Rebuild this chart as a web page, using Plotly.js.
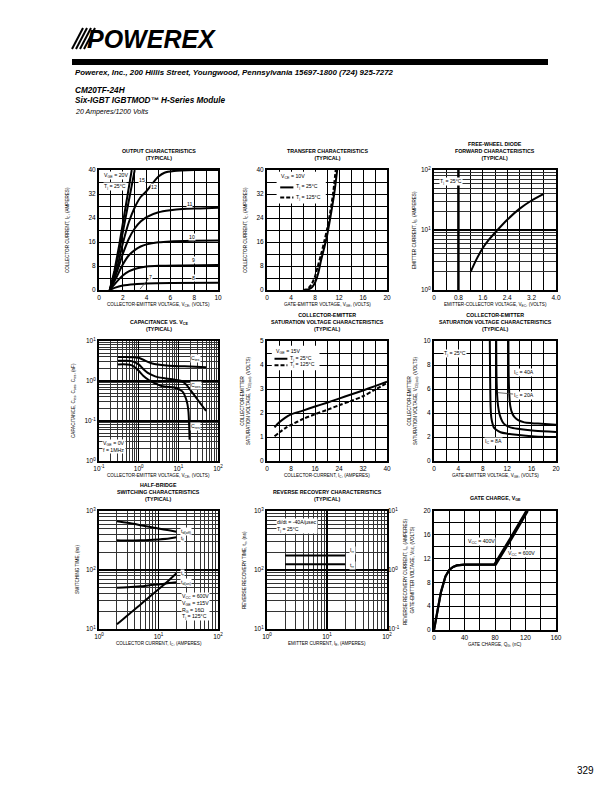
<!DOCTYPE html>
<html><head><meta charset="utf-8">
<script src="https://cdn.plot.ly/plotly-3.0.1.min.js"></script>
<style>html,body{margin:0;padding:0;background:#fff}</style>
</head><body><div id="chart" style="width:612px;height:792px"></div>
<script>
// ---------- DATA ----------
// Output characteristics (VCE volts -> IC amperes), per VGE
const out_vce_20 = [0.9,1.3,1.7,2.1,2.5,2.75];
const out_ic_20  = [0,6.5,15,24,33,40];
const out_vce_15 = [0.9,1.3,1.7,2.1,2.5,3.0];
const out_ic_15  = [0,5.5,13,21,29,40];
const out_vce_12 = [0.9,1.5,2,2.5,3,3.5,4,4.5,5,5.5,6.3,8,10];
const out_ic_12  = [0,7,15.5,22.5,27.5,31,33,35.5,37.8,39.1,39.7,40,40];
const out_vce_11 = [0.9,1.5,2,2.5,3,3.5,4,5,6,7,8.5,10];
const out_ic_11  = [0,6,12,17,20.5,22.8,24.3,25.9,26.6,27,27.2,27.4];
const out_vce_10 = [0.9,1.5,2,2.5,3,3.5,4,5,6,8,10];
const out_ic_10  = [0,4.5,8.5,11.5,13.3,14.5,15.2,15.9,16.2,16.4,16.5];
const out_vce_9  = [0.9,1.5,2,2.5,3,3.5,4,5,7,10];
const out_ic_9   = [0,2.8,4.8,6.2,7.0,7.5,7.8,8.05,8.2,8.3];
const out_vce_8  = [0.9,1.3,2,3,4,6,10];
const out_ic_8   = [0,0.7,1.5,1.95,2.15,2.3,2.4];
const out_labels = ['15','12','11','10','9','8','7'];

// Transfer characteristics (VGE -> IC)
const tr_vge_25  = [6.5,7,7.5,8,8.5,9,9.5,10,10.5,11,11.3,11.7];
const tr_ic_25   = [0,0.3,0.9,2.4,5.3,9.8,13.8,18,23.5,29.5,33.5,40];
const tr_vge_125 = [6,6.5,7,7.5,8,8.5,9,9.5,10,10.5,11,11.45];
const tr_ic_125  = [0,0.2,0.8,2.2,4.5,8.2,11.8,15.8,20.2,25.5,32,40];

// Free-wheel diode forward (VEC -> IE)
const fwd_vec = [1.2,1.4,1.6,1.8,2.0,2.4,2.8,3.2,3.6];
const fwd_ie  = [2,3.3,5,6.9,9,14.8,22.5,31,40];

// Capacitance vs VCE (nF)
const cap_vce_ies = [0.3,0.5,0.8,1,1.3,1.7,2.2,3,5,10,20,50];
const cap_ies     = [4.0,4.0,3.9,3.8,3.4,3.0,2.75,2.6,2.45,2.35,2.3,2.2];
const cap_vce_oes = [0.3,0.5,0.7,1,1.3,1.7,2.2,3,5,8,12,16,20,30,50];
const cap_oes     = [3.2,3.2,3.1,2.6,2.0,1.6,1.4,1.25,1.15,1.08,1.0,0.8,0.6,0.35,0.18];
const cap_vce_res = [0.3,0.5,0.65,0.8,1,1.3,1.8,2.5,3.6,5,8,12.6,15.5,17,18,18.7,19.2];
const cap_res     = [2.6,2.6,2.5,2.2,1.8,1.35,1.06,0.88,0.76,0.72,0.69,0.55,0.37,0.26,0.17,0.08,0.034];

// VCE(sat) vs IC
const sat_ic   = [2.5,4,6,8,12,16,20,24,28,32,36,40];
const sat_v25  = [1.4,1.6,1.8,1.94,2.1,2.27,2.43,2.6,2.77,2.94,3.12,3.3];
const sat_v125 = [1.03,1.18,1.36,1.5,1.75,1.95,2.13,2.32,2.5,2.7,2.97,3.25];

// VCE(sat) vs VGE
const sv_vge_8  = [9.15,9.2,9.28,9.4,9.6,9.8,10.2,10.9,12,13.5,16.5,20];
const sv_v_8    = [10,7,4.5,3.6,3.1,2.8,2.6,2.4,2.28,2.18,2.05,2.0];
const sv_vge_20 = [10.2,10.25,10.35,10.5,10.8,11.2,11.7,12.5,13.7,16.5,20];
const sv_v_20   = [10,7,5.5,4.6,3.8,3.3,3.0,2.8,2.68,2.52,2.42];
const sv_vge_40 = [12.2,12.25,12.35,12.5,12.8,13.2,13.8,14.8,16,17.6,20];
const sv_v_40   = [10,7,5.5,4.6,4.0,3.65,3.4,3.22,3.15,3.1,3.02];

// Half-bridge switching (IC -> ns)
const sw_ic    = [2,3,5,7,10,15,20];
const sw_tdoff = [670,630,575,540,505,470,445];
const sw_tf    = [320,316,318,322,330,342,358];
const sw_tdon  = [50,51,53,55,57,60,62];
const sw_tr    = [12,17,26,35,47,67,88];

// Reverse recovery (IE -> trr ns, Irr A)
const rr_ie  = [2,20];
const rr_trr = [125,125];
const rr_irr = [1.76,1.76];

// Gate charge (QG nC -> VGE)
const gc_q_400 = [0,4,9,15,20,25,30,40,60,79,100,121];
const gc_v_400 = [0,2.8,6.3,9,10.1,10.6,10.85,11,11,11,15.4,20];
const gc_q_600 = [0,4,9,15,20,25,30,40,60,81,102,123];
const gc_v_600 = [0,2.8,6.3,9,10.1,10.6,10.85,11,11,11,15.4,20];

// ---------- LAYOUT HELPERS ----------
const W = 612, H = 792;
const FONT = '"Liberation Sans", Arial, Helvetica, sans-serif';
const TICK = 6.5, ATF = 4.6, TTF = 5.3;
const P = [
  {x:[99,218], y:[170,290]}, {x:[267,387], y:[170,290]}, {x:[434,556], y:[170,290]},
  {x:[99,218], y:[341,461]}, {x:[267,387], y:[341,461]}, {x:[434,556], y:[341,461]},
  {x:[99,218], y:[511,629]}, {x:[267,387], y:[511,629]}, {x:[434,556], y:[511,630]}
];
const dx = i => [P[i].x[0]/W, P[i].x[1]/W];
const dy = i => [1-P[i].y[1]/H, 1-P[i].y[0]/H];

function axBase(){
  return {showline:true, mirror:true, linecolor:'#000', linewidth:2, showgrid:true,
    gridcolor:'#000', gridwidth:1, ticks:'', tickfont:{family:FONT,size:TICK,color:'#000'},
    zeroline:false, fixedrange:true, automargin:false};
}
function linAxis(dom, anchor, range, dtick, mdtick, extra){
  return Object.assign(axBase(), {domain:dom, anchor:anchor, range:range, tick0:0, dtick:dtick,
    minor:{dtick:mdtick, tick0:0, showgrid:true, gridcolor:'#000', gridwidth:1}}, extra||{});
}
function logAxis(dom, anchor, lo, hi, extra){
  const tv=[], tt=[];
  for(let e=lo;e<=hi;e++){
    tv.push(Math.pow(10,e)); tt.push('10<sup>'+(e<0?'-':'')+Math.abs(e)+'</sup>');
  }
  return Object.assign(axBase(), {type:'log', domain:dom, anchor:anchor, range:[lo,hi],
    tickmode:'array', tickvals:tv, ticktext:tt, gridwidth:1.6,
    minor:{dtick:'D1', showgrid:true, gridcolor:'#333', gridwidth:1}}, extra||{});
}

const layout = {
  width:W, height:H, margin:{l:0,r:0,t:0,b:0}, paper_bgcolor:'#fff', plot_bgcolor:'#fff',
  showlegend:false, font:{family:FONT, color:'#000'},
  xaxis:  linAxis(dx(0),'y',[0,10],2,1),
  yaxis:  linAxis(dy(0),'x',[0,40],8,4),
  xaxis2: linAxis(dx(1),'y2',[0,20],4,2),
  yaxis2: linAxis(dy(1),'x2',[0,40],8,4),
  xaxis3: linAxis(dx(2),'y3',[0,4],0.8,0.4,{tickmode:'array',tickvals:[0,0.8,1.6,2.4,3.2,4.0],ticktext:['0','0.8','1.6','2.4','3.2','4.0']}),
  yaxis3: logAxis(dy(2),'x3',0,2),
  xaxis4: logAxis(dx(3),'y4',-1,2),
  yaxis4: logAxis(dy(3),'x4',-2,1,{ticktext:['10<sup>0</sup>','10<sup>-1</sup>','10<sup>0</sup>','10<sup>1</sup>']}),
  xaxis5: linAxis(dx(4),'y5',[0,40],8,4),
  yaxis5: linAxis(dy(4),'x5',[0,5],1,0.5),
  xaxis6: linAxis(dx(5),'y6',[0,20],4,2),
  yaxis6: linAxis(dy(5),'x6',[0,10],2,1),
  xaxis7: logAxis(dx(6),'y7',0,2),
  yaxis7: logAxis(dy(6),'x7',1,3),
  xaxis8: logAxis(dx(7),'y8',0,2),
  yaxis8: logAxis(dy(7),'x8',1,3),
  yaxis10: Object.assign(logAxis(dy(7),'x8',-1,1), {overlaying:'y8', side:'right', showgrid:false, minor:{showgrid:false}, showline:false}),
  xaxis9: linAxis(dx(8),'y9',[0,160],40,20),
  yaxis9: linAxis(dy(8),'x9',[0,20],4,2),
  annotations:[], shapes:[]
};

// ---------- TRACES ----------
function ln(x,y,ax,ay,opts){
  return Object.assign({type:'scatter', mode:'lines', x:x, y:y, xaxis:ax, yaxis:ay,
    line:{color:'#000', width:2, shape:'spline', smoothing:0.8}, hoverinfo:'skip'}, opts||{});
}
const dash = {color:'#000', width:2, dash:'4px,2px', shape:'spline', smoothing:0.8};
const data = [
  ln(out_vce_20,out_ic_20,'x','y',{line:{color:'#000',width:2}}),
  ln(out_vce_15,out_ic_15,'x','y',{line:{color:'#000',width:2}}),
  ln(out_vce_12,out_ic_12,'x','y'), ln(out_vce_11,out_ic_11,'x','y'),
  ln(out_vce_10,out_ic_10,'x','y'), ln(out_vce_9,out_ic_9,'x','y'), ln(out_vce_8,out_ic_8,'x','y'),
  ln(tr_vge_25,tr_ic_25,'x2','y2'), ln(tr_vge_125,tr_ic_125,'x2','y2',{line:dash}),
  ln(fwd_vec,fwd_ie,'x3','y3'),
  ln(cap_vce_ies,cap_ies,'x4','y4'), ln(cap_vce_oes,cap_oes,'x4','y4'), ln(cap_vce_res,cap_res,'x4','y4'),
  ln(sat_ic,sat_v25,'x5','y5'), ln(sat_ic,sat_v125,'x5','y5',{line:dash}),
  ln(sv_vge_8,sv_v_8,'x6','y6'), ln(sv_vge_20,sv_v_20,'x6','y6'), ln(sv_vge_40,sv_v_40,'x6','y6'),
  ln(sw_ic,sw_tdoff,'x7','y7'), ln(sw_ic,sw_tf,'x7','y7'), ln(sw_ic,sw_tdon,'x7','y7'), ln(sw_ic,sw_tr,'x7','y7'),
  ln(rr_ie,rr_trr,'x8','y8',{line:{color:'#000',width:2}}), ln(rr_ie,rr_irr,'x8','y10',{line:{color:'#000',width:2}}),
  ln(gc_q_400,gc_v_400,'x9','y9',{line:{color:'#000',width:2.2}}),
  ln(gc_q_600,gc_v_600,'x9','y9',{line:{color:'#000',width:2.2}})
];

// ---------- ANNOTATIONS ----------
const A = layout.annotations, S = layout.shapes;
function pann(text,xp,yp,o){
  A.push(Object.assign({xref:'paper',yref:'paper',x:xp/W,y:1-yp/H,text:text,showarrow:false,
    font:{family:FONT,size:ATF,color:'#000'}}, o||{}));
}
function dann(i,text,x,y,o){
  const n = i===0?'':String(i+1);
  A.push(Object.assign({xref:'x'+n,yref:'y'+n,x:x,y:y,text:text,showarrow:false,
    font:{family:FONT,size:5.2,color:'#000'}, bgcolor:'#fff', borderpad:0}, o||{}));
}
const L10 = Math.log10;

// header
pann('<b><i>POWEREX</i></b>', 85, 39, {xanchor:'left',yanchor:'middle',font:{family:FONT,size:25,color:'#000'}});
for(let i=0;i<4;i++){
  S.push({type:'line',xref:'paper',yref:'paper',x0:(72+4*i)/W,y0:1-49/H,x1:(83+4*i)/W,y1:1-28/H,line:{color:'#000',width:2}});
}
S.push({type:'rect',xref:'paper',yref:'paper',x0:72/W,x1:548/W,y0:1-65/H,y1:1-59/H,fillcolor:'#000',line:{width:0}});
pann('<b><i>Powerex, Inc., 200 Hillis Street, Youngwood, Pennsylvania 15697-1800 (724) 925-7272</i></b>',73,73,{xanchor:'left',yanchor:'middle',font:{family:FONT,size:7.9,color:'#000'}});
pann('<b><i>CM20TF-24H</i></b>',73,90,{xanchor:'left',yanchor:'middle',font:{family:FONT,size:8.2,color:'#000'}});
pann('<b><i>Six-IGBT IGBTMOD™ H-Series Module</i></b>',73,100.5,{xanchor:'left',yanchor:'middle',font:{family:FONT,size:8.2,color:'#000'}});
pann('<i>20 Amperes/1200 Volts</i>',73,111.5,{xanchor:'left',yanchor:'middle',font:{family:FONT,size:7,color:'#000'}});
pann('329',585,770,{xanchor:'center',yanchor:'middle',font:{family:FONT,size:10,color:'#000'}});

// chart titles
const titles = [
  'OUTPUT CHARACTERISTICS<br>(TYPICAL)',
  'TRANSFER CHARACTERISTICS<br>(TYPICAL)',
  'FREE-WHEEL DIODE<br>FORWARD CHARACTERISTICS<br>(TYPICAL)',
  'CAPACITANCE VS. V<sub>CE</sub><br>(TYPICAL)',
  'COLLECTOR-EMITTER<br>SATURATION VOLTAGE CHARACTERISTICS<br>(TYPICAL)',
  'COLLECTOR-EMITTER<br>SATURATION VOLTAGE CHARACTERISTICS<br>(TYPICAL)',
  'HALF-BRIDGE<br>SWITCHING CHARACTERISTICS<br>(TYPICAL)',
  'REVERSE RECOVERY CHARACTERISTICS<br>(TYPICAL)',
  'GATE CHARGE, V<sub>GE</sub>'
];
const xtitles = [
  'COLLECTOR-EMITTER VOLTAGE, V<sub>CE</sub>, (VOLTS)',
  'GATE-EMITTER VOLTAGE, V<sub>GE</sub>, (VOLTS)',
  'EMITTER-COLLECTOR VOLTAGE, V<sub>EC</sub>, (VOLTS)',
  'COLLECTOR-EMITTER VOLTAGE, V<sub>CE</sub>, (VOLTS)',
  'COLLECTOR-CURRENT, I<sub>C</sub>, (AMPERES)',
  'GATE-EMITTER VOLTAGE, V<sub>GE</sub>, (VOLTS)',
  'COLLECTOR CURRENT, I<sub>C</sub>, (AMPERES)',
  'EMITTER CURRENT, I<sub>E</sub>, (AMPERES)',
  'GATE CHARGE, Q<sub>G</sub>, (nC)'
];
const ytitles = [
  'COLLECTOR CURRENT, I<sub>C</sub>, (AMPERES)',
  'COLLECTOR CURRENT, I<sub>C</sub>, (AMPERES)',
  'EMITTER CURRENT, I<sub>E</sub>, (AMPERES)',
  'CAPACITANCE, C<sub>ies</sub>, C<sub>oes</sub>, C<sub>res</sub>, (nF)',
  'COLLECTOR-EMITTER<br>SATURATION VOLTAGE, V<sub>CE(sat)</sub>, (VOLTS)',
  'COLLECTOR-EMITTER<br>SATURATION VOLTAGE, V<sub>CE(sat)</sub>, (VOLTS)',
  'SWITCHING TIME, (ns)',
  'REVERSE RECOVERY TIME, t<sub>rr</sub>, (ns)',
  'GATE-EMITTER VOLTAGE, V<sub>GE</sub>, (VOLTS)'
];
const ytx = [68,246,415,74,246,413,77,245,412];
for(let i=0;i<9;i++){
  const cx = (P[i].x[0]+P[i].x[1])/2, cy=(P[i].y[0]+P[i].y[1])/2;
  pann('<b>'+titles[i]+'</b>', cx, P[i].y[0]-7, {xanchor:'center',yanchor:'bottom',font:{family:FONT,size:TTF,color:'#000'}});
  pann(xtitles[i], cx, P[i].y[1]+15, {xanchor:'center',yanchor:'middle'});
  pann(ytitles[i], ytx[i], cy, {xanchor:'center',yanchor:'middle',textangle:-90});
}
pann('REVERSE RECOVERY CURRENT, I<sub>rr</sub>, (AMPERES)', 406, 572, {xanchor:'center',yanchor:'middle',textangle:-90});

// chart 1
dann(0,'V<sub>GE</sub> = 20V',0.35,38.3,{xanchor:'left'});
dann(0,'T<sub>j</sub> = 25°C',0.35,34.5,{xanchor:'left'});
dann(0,out_labels[0],3.6,36.6); dann(0,out_labels[1],4.6,34.3);
dann(0,out_labels[2],7.6,28.8); dann(0,out_labels[3],7.8,17.7);
dann(0,out_labels[4],7.9,10.1); dann(0,out_labels[5],7.95,4.0);
dann(0,out_labels[6],3.45,0.3,{showarrow:true,arrowhead:0,arrowwidth:0.8,axref:'x',ayref:'y',ax:4.3,ay:4.4});
// chart 2 legend
S.push({type:'rect',xref:'x2',yref:'y2',x0:1.6,x1:9.8,y0:28.8,y1:39.4,fillcolor:'#fff',line:{width:0},layer:'between'});
dann(1,'V<sub>CE</sub> = 10V',2.2,37.8,{xanchor:'left',bgcolor:'rgba(0,0,0,0)'});
S.push({type:'line',xref:'x2',yref:'y2',x0:2.2,x1:4.4,y0:34.2,y1:34.2,line:{color:'#000',width:2}});
dann(1,'T<sub>j</sub> = 25°C',4.6,34.4,{xanchor:'left',bgcolor:'rgba(0,0,0,0)'});
S.push({type:'line',xref:'x2',yref:'y2',x0:2.2,x1:4.4,y0:30.8,y1:30.8,line:{color:'#000',width:2,dash:'4px,2px'}});
dann(1,'T<sub>j</sub> = 125°C',4.6,31.0,{xanchor:'left',bgcolor:'rgba(0,0,0,0)'});
// chart 3
dann(2,'T<sub>j</sub> = 25°C',0.15,L10(64),{xanchor:'left'});
S.push({type:'line',xref:'x3',yref:'y3 domain',x0:0.8,x1:0.8,y0:0,y1:1,line:{color:'#000',width:2.5}});
// chart 4
dann(3,'C<sub>ies</sub>',L10(27),L10(3.6));
dann(3,'C<sub>oes</sub>',L10(28),L10(0.78));
dann(3,'C<sub>res</sub>',L10(27),L10(0.075));
dann(3,'V<sub>GE</sub> = 0V<br>f = 1MHz',L10(0.12),L10(0.036),{xanchor:'left',yanchor:'top',align:'left'});
// chart 5 legend
S.push({type:'rect',xref:'x5',yref:'y5',x0:1.6,x1:17.5,y0:3.78,y1:4.8,fillcolor:'#fff',line:{width:0},layer:'between'});
dann(4,'V<sub>GE</sub> = 15V',2.5,4.55,{xanchor:'left',bgcolor:'rgba(0,0,0,0)'});
S.push({type:'line',xref:'x5',yref:'y5',x0:2.5,x1:6.8,y0:4.26,y1:4.26,line:{color:'#000',width:2}});
dann(4,'T<sub>j</sub> = 25°C',7.4,4.28,{xanchor:'left',bgcolor:'rgba(0,0,0,0)'});
S.push({type:'line',xref:'x5',yref:'y5',x0:2.5,x1:6.8,y0:3.99,y1:3.99,line:{color:'#000',width:2,dash:'4px,2px'}});
dann(4,'T<sub>j</sub> = 125°C',7.4,4.01,{xanchor:'left',bgcolor:'rgba(0,0,0,0)'});
// chart 6
dann(5,'T<sub>j</sub> = 25°C',1.5,9.0,{xanchor:'left'});
dann(5,'I<sub>C</sub> = 40A',14.7,7.4);
dann(5,'I<sub>C</sub> = 20A',10.4,5.7,{showarrow:true,arrowhead:0,arrowwidth:0.8,axref:'x6',ayref:'y6',ax:14.7,ay:5.5});
dann(5,'I<sub>C</sub> = 8A',9.8,1.6);
// chart 7
dann(6,'t<sub>d(off)</sub>',L10(23),L10(450),{xanchor:'left'});
dann(6,'t<sub>f</sub>',L10(23),L10(345),{xanchor:'left'});
dann(6,'t<sub>r</sub>',L10(23),L10(86),{xanchor:'left'});
dann(6,'t<sub>d(on)</sub>',L10(23),L10(61),{xanchor:'left'});
dann(6,'V<sub>CC</sub> = 600V<br>V<sub>GE</sub> = ±15V<br>R<sub>G</sub> = 16Ω<br>T<sub>j</sub> = 125°C',L10(24),L10(42),{xanchor:'left',yanchor:'top',align:'left'});
// chart 8
dann(7,'di/dt = -40A/µsec<br>T<sub>j</sub> = 25°C',L10(1.4),L10(760),{xanchor:'left',yanchor:'top',align:'left'});
dann(7,'I<sub>rr</sub>',L10(23),L10(215),{xanchor:'left'});
dann(7,'t<sub>rr</sub>',L10(23),L10(118),{xanchor:'left'});
// chart 9
dann(8,'V<sub>CC</sub> = 400V',62,14.8);
dann(8,'V<sub>CC</sub> = 600V',115,12.8);

Plotly.newPlot('chart', data, layout, {staticPlot:true, displayModeBar:false});
</script></body></html>
